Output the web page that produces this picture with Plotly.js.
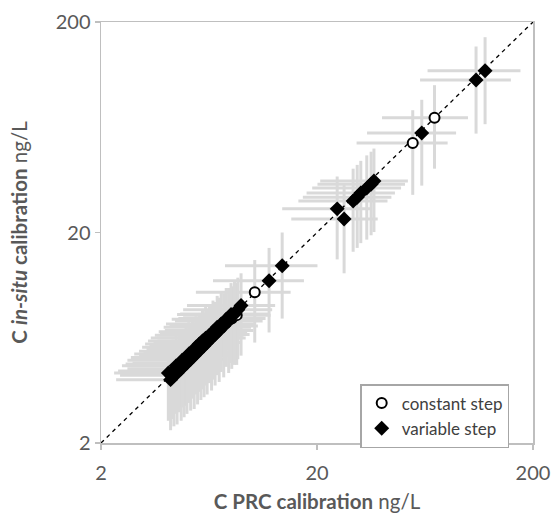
<!DOCTYPE html>
<html>
<head>
<meta charset="utf-8">
<script src="https://cdn.plot.ly/plotly-3.0.1.min.js"></script>
<style>html,body{margin:0;padding:0;background:#fff;}#chart{width:553px;height:521px;}</style>
</head>
<body>
<div id="chart"></div>
<script>
// constant step (open circles)
var constX  = [8.06, 8.5, 10.3, 55.5, 70];
var constY  = [7.8, 8.1, 10.4, 53.2, 70.2];
var constEX = [3.5, 3.7, 4.8, 25, 30];
var constEY = [3.3, 3.4, 4.4, 23, 30];

// variable step (filled diamonds)
var varX  = [4.1,4.2,4.3,4.35,4.45,4.5,4.6,4.7,4.75,4.85,4.95,5.0,5.1,5.2,5.3,5.4,5.5,5.6,5.7,5.8,5.9,6.0,6.1,6.2,6.35,6.5,6.6,6.75,6.9,7.05,7.2,7.4,7.6,7.8,8.0,8.3,8.6,8.9,
             12.0,13.8,24.8,26.7,29.4,30.7,31.9,34.0,35.6,36.7,61.1,109,120];
var varY  = [4.3,4.0,4.4,4.2,4.65,4.3,4.75,4.5,4.95,4.65,5.1,4.8,5.3,5.0,5.45,5.2,5.7,5.4,5.9,5.6,6.1,5.8,6.3,6.0,6.5,6.3,6.75,6.55,7.1,6.85,7.35,7.2,7.75,7.6,8.15,8.2,8.6,9.0,
             11.8,13.9,25.9,23.2,28.2,29.4,30.8,32.5,33.9,35.1,59.4,106,117.4];
var varEX = [1.8,1.85,1.9,1.9,1.95,2.0,2.0,2.05,2.1,2.1,2.2,2.2,2.25,2.3,2.3,2.4,2.4,2.45,2.5,2.55,2.6,2.65,2.7,2.7,2.8,2.85,2.9,3.0,3.0,3.1,3.2,3.25,3.35,3.4,3.5,3.65,3.8,3.9,
             5.4,6.3,11,11.5,13,13.5,14,15,15.5,16,27,49,55];
var varEY = [1.75,1.7,1.8,1.8,1.9,1.85,1.95,1.95,2.0,2.0,2.1,2.05,2.2,2.15,2.2,2.3,2.3,2.35,2.4,2.4,2.5,2.5,2.55,2.6,2.65,2.75,2.75,2.8,2.9,2.95,3.0,3.1,3.15,3.3,3.35,3.5,3.6,3.8,
             5.1,6.1,11,10.4,12,12.5,13,14,14.5,15,26,47,52];

var tickVals = [2, 20, 200];
var tickText = ['2', '20', '200'];
var lineX = [2, 200];
var lineY = [2, 200];

var errColor = '#d9d9d9';
function errTrace(x, y, ex, ey) {
  return {
    x: x, y: y, type: 'scatter', mode: 'markers',
    marker: {size: 1, opacity: 0},
    error_x: {type: 'data', array: ex, visible: true, color: errColor, thickness: 3, width: 0},
    error_y: {type: 'data', array: ey, visible: true, color: errColor, thickness: 3, width: 0},
    showlegend: false, hoverinfo: 'skip'
  };
}

var data = [
  errTrace(constX, constY, constEX, constEY),
  errTrace(varX, varY, varEX, varEY),
  {x: lineX, y: lineY, type: 'scatter', mode: 'lines',
   line: {color: '#000', width: 1.3, dash: '4px,4px'}, showlegend: false, hoverinfo: 'skip'},
  {x: constX, y: constY, type: 'scatter', mode: 'markers', name: 'constant step',
   marker: {symbol: 'circle', size: 10, color: '#fff', line: {color: '#000', width: 2}}},
  {x: varX, y: varY, type: 'scatter', mode: 'markers', name: 'variable step',
   marker: {symbol: 'diamond', size: 11.5, color: '#000', line: {width: 0}}}
];

var axCommon = {
  type: 'log', range: [Math.log10(2), Math.log10(200)],
  tickmode: 'array', tickvals: tickVals, ticktext: tickText,
  showgrid: false, zeroline: false,
  showline: true, linecolor: '#bfbfbf', linewidth: 1.5, mirror: true,
  ticks: 'outside', ticklen: 5, tickcolor: '#bfbfbf', tickwidth: 1.5,
  tickfont: {family: 'Lato, sans-serif', size: 20, color: '#595959'}
};

var layout = {
  width: 553, height: 521,
  margin: {l: 101, r: 20, t: 22, b: 78},
  paper_bgcolor: '#fff', plot_bgcolor: '#fff',
  showlegend: true,
  legend: {x: 0.6, y: 0.14, xanchor: 'left', yanchor: 'top',
           bordercolor: '#a6a6a6', borderwidth: 1.5, bgcolor: '#fff',
           font: {family: 'Lato, sans-serif', size: 17, color: '#404040'},
           itemwidth: 30, tracegroupgap: 0},
  xaxis: Object.assign({}, axCommon, {
    ticklabelstandoff: 6,
    title: {text: '<b>C PRC calibration</b> ng/L', standoff: 12,
            font: {family: 'Lato, sans-serif', size: 20.5, color: '#595959'}}
  }),
  yaxis: Object.assign({}, axCommon, {
    title: {text: '<b>C <i>in-situ</i> calibration</b> ng/L', standoff: 22,
            font: {family: 'Lato, sans-serif', size: 20.5, color: '#595959'}}
  })
};

Plotly.newPlot('chart', data, layout, {displayModeBar: false, staticPlot: true});
</script>
</body>
</html>
